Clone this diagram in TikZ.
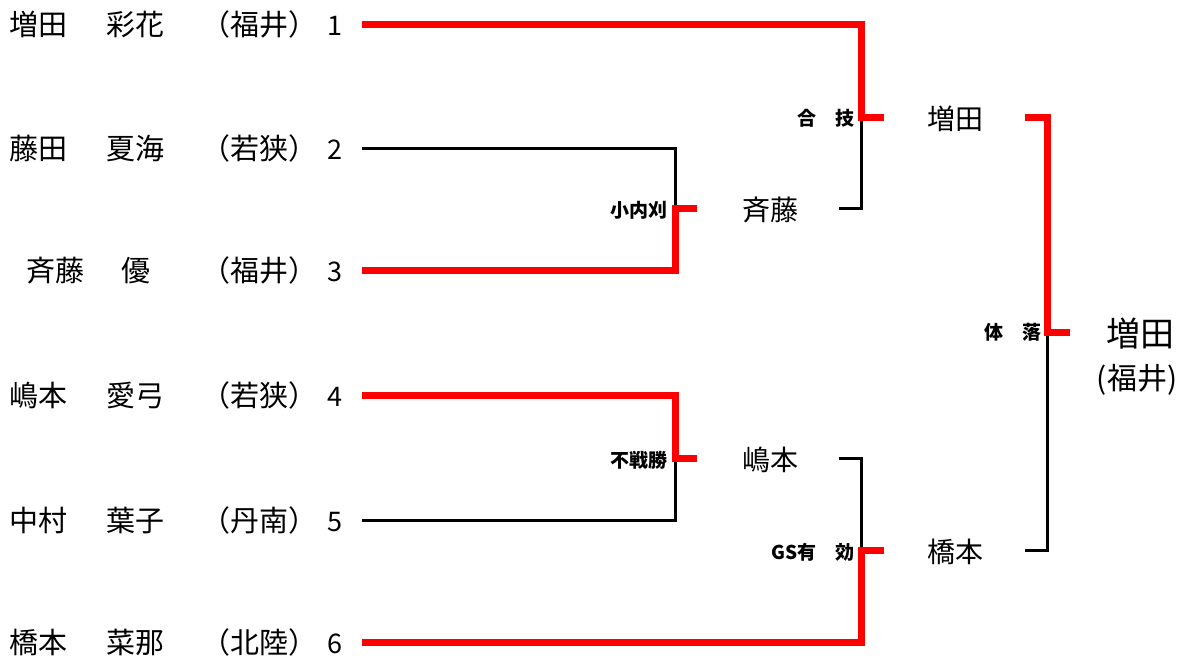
\documentclass[tikz,border=0pt]{standalone}
\usepackage{fontspec}
\setmainfont{Noto Sans CJK JP}
\begin{document}
\begin{tikzpicture}[x=1pt,y=-1pt,
  redline/.style={draw=red,line width=7pt,line join=miter,line cap=butt},
  blkline/.style={draw=black,line width=3pt,line join=miter,line cap=butt},
  entrant/.style={anchor=base west,inner sep=0pt,font=\fontsize{29}{32}\selectfont},
  seednum/.style={anchor=base,inner sep=0pt,font=\fontsize{27}{30}\selectfont},
  rname/.style={anchor=base,inner sep=0pt,font=\fontsize{28}{32}\selectfont},
  waza/.style={anchor=base east,inner sep=0pt,font=\bfseries\fontsize{19}{22}\selectfont},
  champ/.style={anchor=base,inner sep=0pt,font=\fontsize{34}{38}\selectfont},
  champclub/.style={anchor=base,inner sep=0pt,font=\fontsize{30}{34}\selectfont}]
\useasboundingbox (0,0) rectangle (1187,661);

% entrants
\node[entrant] (f1) at (9,36) {増田};
\node[entrant] (g1) at (106,36) {彩花};
\node[entrant] (c1) at (201,36) {（福井）};
\node[seednum] (n1) at (335,36) {1};

\node[entrant] (f2) at (9,159) {藤田};
\node[entrant] (g2) at (106,159) {夏海};
\node[entrant] (c2) at (201,159) {（若狭）};
\node[seednum] (n2) at (335,159) {2};

\node[entrant] (f3) at (26,281) {斉藤};
\node[entrant] (g3) at (121,281) {優};
\node[entrant] (c3) at (201,281) {（福井）};
\node[seednum] (n3) at (335,281) {3};

\node[entrant] (f4) at (9,406) {嶋本};
\node[entrant] (g4) at (106,406) {愛弓};
\node[entrant] (c4) at (201,406) {（若狭）};
\node[seednum] (n4) at (335,406) {4};

\node[entrant] (f5) at (9,531) {中村};
\node[entrant] (g5) at (106,531) {葉子};
\node[entrant] (c5) at (201,531) {（丹南）};
\node[seednum] (n5) at (335,531) {5};

\node[entrant] (f6) at (9,653) {橋本};
\node[entrant] (g6) at (106,653) {菜那};
\node[entrant] (c6) at (201,653) {（北陸）};
\node[seednum] (n6) at (335,653) {6};

% line coordinates
\coordinate (e1) at (362,25);
\coordinate (e2) at (362,148);
\coordinate (e3) at (362,270);
\coordinate (e4) at (362,395);
\coordinate (e5) at (362,520);
\coordinate (e6) at (362,642);

\coordinate (qa) at (675,208);   \coordinate (qao) at (697,208);
\coordinate (qb) at (675,458);   \coordinate (qbo) at (697,458);
\coordinate (sa) at (861,117);   \coordinate (sao) at (884,117);
\coordinate (sb) at (861,550);   \coordinate (sbo) at (884,550);
\coordinate (fa) at (1047,332);  \coordinate (fao) at (1070,332);

\coordinate (qain) at (839,208);
\coordinate (qbin) at (839,458);
\coordinate (sain) at (1025,117);
\coordinate (sbin) at (1025,550);

% round names
\node[rname] (r1) at (770,220) {斉藤};
\node[rname] (r2) at (770,470) {嶋本};
\node[rname] (s1) at (955,129) {増田};
\node[rname] (s2) at (955,562) {橋本};
\node[champ] (w) at (1140,346) {増田};
\node[champclub] (wc) at (1137,389) {(福井)};

% losing lines
\draw[blkline] (e2) -| (qa);
\draw[blkline] (e5) -| (qb);
\draw[blkline] (qain) -| (sa);
\draw[blkline] (qbin) -| (sb);
\draw[blkline] (fa) |- (sbin);

% winning lines
\draw[redline] (e3) -| (qa) -- (qao);
\draw[redline] (e4) -| (qb) -- (qbo);
\draw[redline] (e1) -| (sa) -- (sao);
\draw[redline] (e6) -| (sb) -- (sbo);
\draw[redline] (sain) -| (fa) -- (fao);

% techniques
\node[waza] (t1) at (668,217) {小内刈};
\node[waza] (t2) at (668,467) {不戦勝};
\node[waza] (t3) at (855,125) {合　技};
\node[waza] (t4) at (855,559) {GS有　効};
\node[waza] (t5) at (1042,339) {体　落};
\end{tikzpicture}
\end{document}
